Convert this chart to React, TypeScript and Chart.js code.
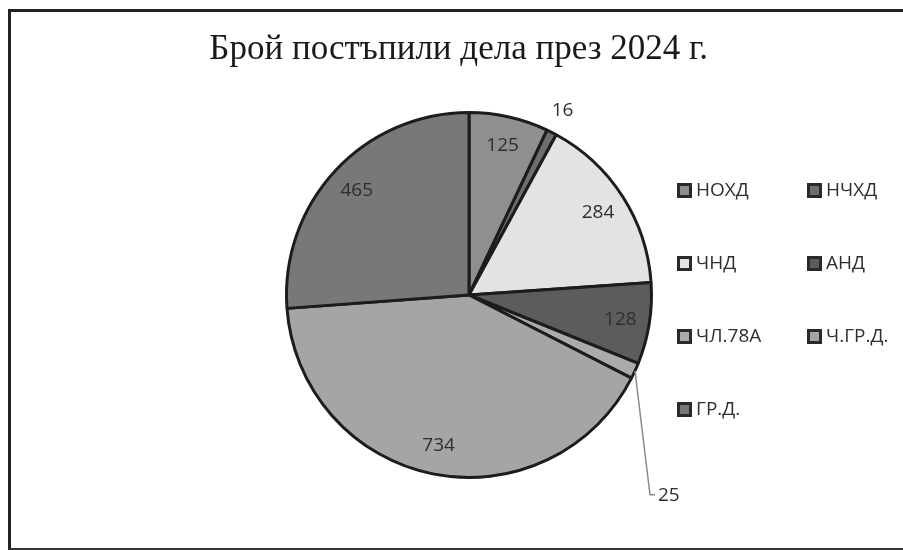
import React, { useEffect, useRef } from "react";
import { Chart, registerables } from "chart.js";

Chart.register(...registerables);

const TITLE = "Брой постъпили дела през 2024 г.";
const CATEGORIES = ["НОХД", "НЧХД", "ЧНД", "АНД", "ЧЛ.78А", "Ч.ГР.Д.", "ГР.Д."];
const VALUES = [125, 16, 284, 128, 25, 734, 465];
const COLORS = ["#8f8f8f", "#6e6e6e", "#e3e3e3", "#5c5c5c", "#ababab", "#a5a5a5", "#787878"];

const LABEL_FONT = "19px 'Open Sans'";
const TEXT_COLOR = "#2e2e2e";

const titlePlugin = {
  id: "scanTitle",
  afterDraw(chart: any) {
    const ctx = chart.ctx;
    ctx.save();
    ctx.font = "35px 'Liberation Serif'";
    ctx.fillStyle = "#1a1a1a";
    ctx.textAlign = "center";
    ctx.textBaseline = "middle";
    ctx.fillText(TITLE, chart.width * 0.508, 50);
    ctx.restore();
  },
};

const labelPlugin = {
  id: "sliceLabels",
  afterDatasetsDraw(chart: any) {
    const ctx = chart.ctx;
    const meta = chart.getDatasetMeta(0);
    const values = chart.data.datasets[0].data as number[];
    const total = values.reduce((a, b) => a + b, 0);
    ctx.save();
    ctx.font = LABEL_FONT;
    ctx.fillStyle = TEXT_COLOR;
    ctx.textBaseline = "middle";
    let smallCount = 0;
    meta.data.forEach((arc: any, i: number) => {
      const { x, y, startAngle, endAngle, outerRadius } = arc.getProps(
        ["x", "y", "startAngle", "endAngle", "outerRadius"],
        true
      );
      const mid = (startAngle + endAngle) / 2;
      const txt = String(values[i]);
      if (values[i] / total > 0.03) {
        const d = outerRadius * 0.84;
        ctx.textAlign = "center";
        ctx.fillText(txt, x + Math.cos(mid) * d, y + Math.sin(mid) * d);
      } else if (smallCount === 0) {
        smallCount++;
        const d = outerRadius + 24;
        ctx.textAlign = "center";
        ctx.fillText(txt, x + Math.cos(mid) * d, y + Math.sin(mid) * d);
      } else {
        smallCount++;
        const sx = x + Math.cos(mid) * outerRadius;
        const sy = y + Math.sin(mid) * outerRadius;
        ctx.strokeStyle = "#8a8a8a";
        ctx.lineWidth = 1.5;
        ctx.beginPath();
        ctx.moveTo(sx, sy);
        ctx.lineTo(sx + 15, sy + 124);
        ctx.lineTo(sx + 20, sy + 124);
        ctx.stroke();
        ctx.textAlign = "left";
        ctx.fillText(txt, sx + 23, sy + 125);
      }
    });
    ctx.restore();
  },
};

const legendPlugin = {
  id: "gridLegend",
  afterDraw(chart: any) {
    const ctx = chart.ctx;
    const labels = chart.data.labels as string[];
    const colors = chart.data.datasets[0].backgroundColor as string[];
    ctx.save();
    ctx.font = LABEL_FONT;
    ctx.fillStyle = TEXT_COLOR;
    ctx.textBaseline = "middle";
    ctx.textAlign = "left";
    labels.forEach((lab, i) => {
      const col = i % 2;
      const row = Math.floor(i / 2);
      const bx = 677 + col * 130;
      const by = 191 + row * 73;
      ctx.fillStyle = "#2a2a2a";
      ctx.fillRect(bx, by - 8, 15, 15);
      ctx.fillStyle = colors[i];
      ctx.fillRect(bx + 3, by - 5, 9, 9);
      ctx.fillStyle = TEXT_COLOR;
      ctx.fillText(lab, bx + 19, by);
    });
    ctx.restore();
  },
};

export default function App() {
  const ref = useRef<HTMLCanvasElement | null>(null);
  useEffect(() => {
    if (!ref.current) return;
    const chart = new Chart(ref.current, {
      type: "pie",
      data: {
        labels: CATEGORIES,
        datasets: [
          {
            data: VALUES,
            backgroundColor: COLORS,
            borderColor: "#1c1c1c",
            borderWidth: 3,
          },
        ],
      },
      options: {
        animation: false,
        responsive: false,
        maintainAspectRatio: false,
        layout: { padding: { left: 285, right: 250, top: 111, bottom: 71 } },
        plugins: {
          legend: { display: false },
          title: { display: false },
          tooltip: { enabled: false },
        },
      },
      plugins: [titlePlugin, labelPlugin, legendPlugin],
    });
    return () => chart.destroy();
  }, []);
  return (
    <div
      style={{
        position: "fixed",
        left: 0,
        top: 0,
        width: 903,
        height: 550,
        background: "#fff",
        overflow: "hidden",
      }}
    >
      <div
        style={{
          position: "absolute",
          left: 8,
          top: 9,
          width: 920,
          height: 536,
          borderTop: "3px solid #222",
          borderLeft: "3px solid #222",
          borderBottom: "3px solid #333",
        }}
      />
      <canvas
        ref={ref}
        width={903}
        height={550}
        style={{ position: "absolute", left: 0, top: 0 }}
      />
    </div>
  );
}
